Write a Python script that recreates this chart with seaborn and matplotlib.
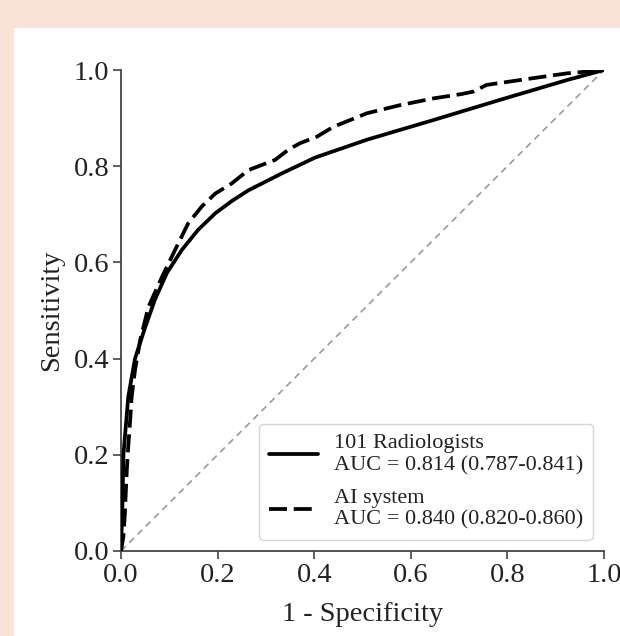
import numpy as np
import pandas as pd
import seaborn as sns
import matplotlib.pyplot as plt
from matplotlib.patches import Rectangle

# ROC points
fpr_rad = [0, 0.003, 0.005, 0.015, 0.029, 0.05, 0.07, 0.095, 0.126, 0.16, 0.195,
           0.23, 0.264, 0.333, 0.402, 0.509, 0.647, 0.785, 0.923, 1.0]
tpr_rad = [0, 0.10, 0.20, 0.32, 0.40, 0.465, 0.522, 0.578, 0.626, 0.668, 0.702,
           0.728, 0.75, 0.785, 0.818, 0.855, 0.896, 0.938, 0.979, 1.0]

fpr_ai = [0, 0.005, 0.008, 0.012, 0.015, 0.019, 0.022, 0.029, 0.04, 0.057, 0.085,
          0.112, 0.139, 0.167, 0.195, 0.229, 0.264, 0.319, 0.346, 0.371, 0.405,
          0.44, 0.509, 0.578, 0.647, 0.705, 0.729, 0.757, 0.853, 0.923, 1.0]
tpr_ai = [0, 0.03, 0.078, 0.168, 0.217, 0.272, 0.32, 0.376, 0.44, 0.508, 0.57,
          0.626, 0.681, 0.716, 0.743, 0.764, 0.792, 0.813, 0.834, 0.848, 0.861,
          0.882, 0.91, 0.927, 0.941, 0.950, 0.955, 0.969, 0.983, 0.993, 1.0]

chance = [0, 1]

label_rad = '101 Radiologists\nAUC = 0.814 (0.787-0.841)'
label_ai = 'AI system\nAUC = 0.840 (0.820-0.860)'
ticks = [0.0, 0.2, 0.4, 0.6, 0.8, 1.0]

sns.set_theme(style='ticks')
plt.rcParams['font.family'] = ['Liberation Serif', 'DejaVu Serif']
plt.rcParams['axes.edgecolor'] = '#444444'
plt.rcParams['xtick.color'] = '#444444'
plt.rcParams['ytick.color'] = '#444444'

fig = plt.figure(figsize=(6.2, 6.36), dpi=100)
fig.patch.set_facecolor('#f9e3d7')
fig.patches.append(Rectangle((14 / 620, 0), 1, 1 - 28 / 636, transform=fig.transFigure,
                             facecolor='white', edgecolor='none', zorder=-5))

ax = fig.add_axes([121 / 620, 1 - 551 / 636, 483 / 620, 481 / 636])
ax.set_zorder(2)
ax.set_facecolor('none')

sns.lineplot(x=chance, y=chance, ax=ax, color='#9a9a9a', lw=1.2,
             linestyle=(0, (4, 3)), zorder=1)
sns.lineplot(x=fpr_rad, y=tpr_rad, ax=ax, color='black', lw=2.7, sort=False,
             estimator=None, label=label_rad, zorder=3)
sns.lineplot(x=fpr_ai, y=tpr_ai, ax=ax, color='black', lw=2.7, sort=False,
             estimator=None, label=label_ai, linestyle=(0, (4.8, 1.8)), zorder=2)

ax.set_xlim(0, 1)
ax.set_ylim(0, 1)
ax.set_xticks(ticks)
ax.set_yticks(ticks)
ax.set_xticklabels([f'{t:.1f}' for t in ticks])
ax.set_yticklabels([f'{t:.1f}' for t in ticks])
ax.tick_params(labelsize=20.5, length=6, width=1.2, pad=2.5,
               colors='#444444', labelcolor='#222222')
for s in ['left', 'bottom']:
    ax.spines[s].set_linewidth(1.3)
sns.despine(ax=ax)

ax.set_xlabel('1 - Specificity', fontsize=20.5, color='#222222', labelpad=10)
ax.set_ylabel('Sensitivity', fontsize=20.5, color='#222222', labelpad=7)

leg = ax.legend(loc='lower right', fontsize=16, handlelength=2.2, frameon=True,
                fancybox=True, labelspacing=0.62, handletextpad=0.72, borderpad=0.45)
leg.get_frame().set_edgecolor('#cccccc')
leg.get_frame().set_linewidth(1.0)
for t in leg.get_texts():
    t.set_color('#222222')

fig.savefig('out.png', dpi=100, facecolor=fig.get_facecolor())
